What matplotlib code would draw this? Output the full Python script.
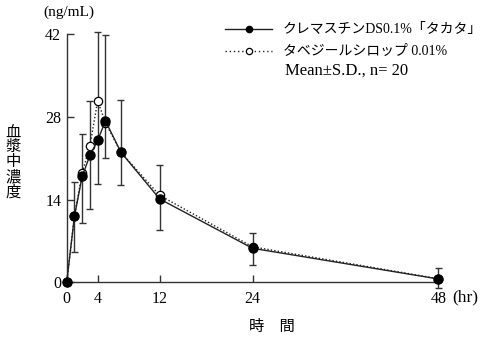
import matplotlib
matplotlib.use("Agg")
import matplotlib.pyplot as plt
from matplotlib.lines import Line2D
import numpy as np

# Data
time_hr = [0, 1, 2, 3, 4, 5, 7, 12, 24, 48]
ds_mean = [0, 11.2, 17.9, 21.5, 24.0, 27.3, 22.0, 14.1, 5.75, 0.56]
ds_sd = [0, 6.0, 7.9, 9.1, 7.4, 6.3, 5.5, 5.3, 2.75, 1.6]
syrup_mean = [0, 11.2, 18.5, 23.1, 30.7, 27.0, 22.0, 14.7, 6.0, 0.6]
syrup_sd = [0, 5.8, 6.6, 7.6, 11.6, 14.8, 8.8, 5.1, 2.4, 1.9]
x_ticks = [0, 4, 12, 24, 48]
y_ticks = [0, 14, 28, 42]
label_ds = "クレマスチンDS0.1%「タカタ」"
label_syrup = "タベジールシロップ 0.01%"
label_stats = "Mean\u00b1S.D., n= 20"

SERIF = ['Liberation Serif', 'Noto Sans CJK JP']
plt.rcParams['font.family'] = SERIF

W, H = 482, 338
fig = plt.figure(figsize=(W / 100, H / 100), dpi=100)
ax = fig.add_axes([0.1384, 0.1648, 0.7713, 0.7346])

t = np.array(time_hr, dtype=float)
dm = np.array(ds_mean); ds = np.array(ds_sd)
sm = np.array(syrup_mean); ss = np.array(syrup_sd)

# error bars: lower from DS, upper from syrup, connected through
lo = dm - ds
hi = sm + ss
mask = t > 0
ecol = '#333333'
ax.vlines(t[mask], lo[mask], hi[mask], color=ecol, lw=1.0, zorder=2, clip_on=False)
cap = 0.45
ax.hlines(lo[mask], t[mask] - cap, t[mask] + cap, color=ecol, lw=1.0, zorder=2, clip_on=False)
ax.hlines(hi[mask], t[mask] - cap, t[mask] + cap, color=ecol, lw=1.0, zorder=2, clip_on=False)

ax.plot(t, sm, linestyle=(0, (1, 1.5)), color='#222222', lw=1.0, marker='o', ms=6,
        mfc='white', mec='black', mew=0.9, zorder=3, clip_on=False)
ax.plot(t, dm, linestyle='-', color='#222222', lw=1.0, marker='o', ms=6.5,
        mfc='black', mec='black', zorder=4, clip_on=False)

ax.set_xlim(0, 48)
ax.set_ylim(0, 42)
ax.set_xticks(x_ticks)
ax.set_yticks(y_ticks)
ax.spines['top'].set_visible(False)
ax.spines['right'].set_visible(False)
for s in ['left', 'bottom']:
    ax.spines[s].set_linewidth(1.0)
    ax.spines[s].set_color(ecol)
ax.tick_params(direction='in', length=5, width=1.0, color=ecol, labelsize=11.5, pad=4)
ax.tick_params(axis='x', pad=6)

# legend drawn manually in figure pixel coordinates
def fx(px):
    return px / W

def fy(py):
    return 1 - py / H

rows = [29, 51, 71]
fig.add_artist(Line2D([fx(225), fx(272)], [fy(rows[0])] * 2, color='#222222', lw=1.0,
                      transform=fig.transFigure))
fig.add_artist(Line2D([fx(249)], [fy(rows[0])], marker='o', ms=4.5, mfc='black',
                      mec='black', transform=fig.transFigure))
fig.add_artist(Line2D([fx(225), fx(272)], [fy(rows[1])] * 2, color='#222222', lw=1.0,
                      linestyle=(0, (1, 2)), transform=fig.transFigure))
fig.add_artist(Line2D([fx(249)], [fy(rows[1])], marker='o', ms=4.5, mfc='white',
                      mec='black', mew=0.9, transform=fig.transFigure))
fig.text(fx(283), fy(rows[0]), label_ds, fontsize=10, va='center', ha='left')
fig.text(fx(283), fy(rows[1]), label_syrup, fontsize=10, va='center', ha='left')
fig.text(fx(285), fy(rows[2]), label_stats, fontsize=12, va='center', ha='left')

fig.text(fx(43), fy(12), "(ng/mL)", fontsize=11, va='center', ha='left')
fig.text(fx(452), fy(297), "(hr)", fontsize=12.5, va='center', ha='left')
fig.text(fx(272), fy(327), "時　間", fontsize=11, va='center', ha='center')
fig.text(fx(13), fy(163), "\n".join("血漿中濃度"), fontsize=11, va='center',
         ha='center', linespacing=1.05)

fig.savefig("out.png", dpi=100)
